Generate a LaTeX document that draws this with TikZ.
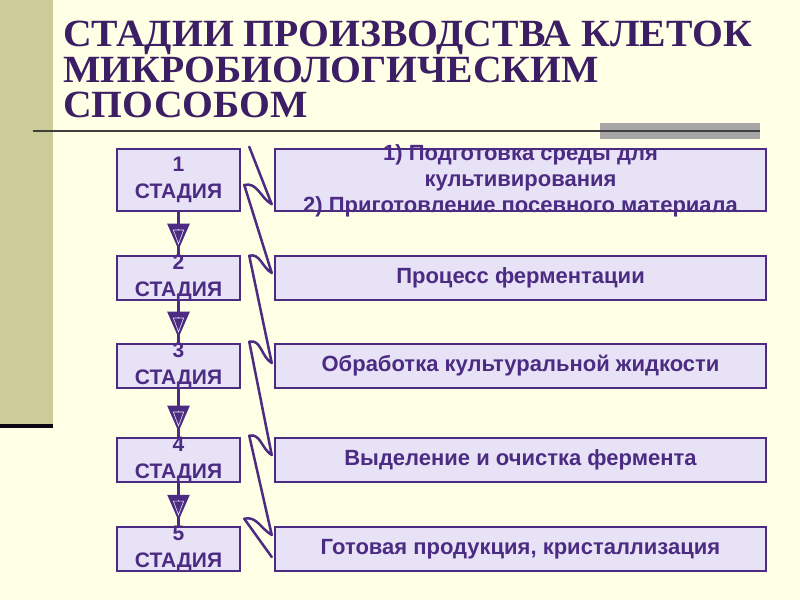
\documentclass[tikz,border=0pt]{standalone}
\usepackage{fontspec}
\setmainfont{Liberation Serif}
\newfontfamily\titlefont{Liberation Serif}[FakeStretch=1.03]
\newfontfamily\boxfont{Liberation Sans}
\usetikzlibrary{calc,arrows.meta}

\definecolor{bgcol}{HTML}{FFFFE6}
\definecolor{barcol}{HTML}{CCCC99}
\definecolor{titlecol}{HTML}{3C1E64}
\definecolor{framecol}{HTML}{4B2C82}
\definecolor{boxfill}{HTML}{E8E2F7}

\tikzset{
  titletext/.style={text=titlecol, font=\titlefont\bfseries\fontsize{38.5}{35}\selectfont, inner sep=0pt, anchor=base west},
  stagebox/.style={draw=framecol, fill=boxfill, line width=2.5pt, inner sep=0pt, minimum width=123pt},
  workbox/.style={stagebox, minimum width=491pt},
  boxtext/.style={text=framecol, font=\boxfont\bfseries\fontsize{21}{27}\selectfont, align=center, inner sep=0pt},
  worktext/.style={boxtext, font=\boxfont\bfseries\fontsize{22}{26}\selectfont},
  stemline/.style={draw=framecol, line width=2.5pt},
  stemtip/.style={stemline, -{Triangle[length=26pt,width=22pt]}, shorten >=5pt},
  innertip/.style={draw=boxfill, line width=0.6pt, -{Triangle[open,length=15pt,width=11pt]}},
  link/.style={draw=framecol, line width=2.5pt, line join=round, line cap=round}
}

\begin{document}
\begin{tikzpicture}[x=1pt, y=1pt]
  \fill[bgcol] (0,0) rectangle (800,600); % 背景
  \useasboundingbox (0,0) rectangle (800,600);
  \fill[barcol] (0,175) rectangle (53,600); % 左の帯
  \draw[line width=3pt, color=black!80!titlecol] (0,174)--(53,174);

  % タイトル
  \node[titletext] (title1) at (63,553) {СТАДИИ ПРОИЗВОДСТВА КЛЕТОК};
  \node[titletext] (title2) at (63,517.5) {МИКРОБИОЛОГИЧЕСКИМ};
  \node[titletext] (title3) at (63,482) {СПОСОБОМ};
  \fill[black!35] (600,461) rectangle (760,477); % 灰色の帯
  \draw[line width=1.5pt, black!75] (33,469)--(760,469); % 区切り線

  % 段階の箱
  \node[stagebox, minimum height=62pt] (s1) at (178.5,420) {};
  \node[stagebox, minimum height=44pt] (s2) at (178.5,322) {};
  \node[stagebox, minimum height=44pt] (s3) at (178.5,234) {};
  \node[stagebox, minimum height=44pt] (s4) at (178.5,140) {};
  \node[stagebox, minimum height=44pt] (s5) at (178.5,51) {};
  \node[boxtext] (t1) at (s1) {1\\СТАДИЯ};
  \node[boxtext] (t2) at (s2) {2\\СТАДИЯ};
  \node[boxtext] (t3) at (s3) {3\\СТАДИЯ};
  \node[boxtext] (t4) at (s4) {4\\СТАДИЯ};
  \node[boxtext] (t5) at (s5) {5\\СТАДИЯ};

  % 内容の箱
  \node[workbox, minimum height=62pt] (r1) at (520.5,420) {};
  \node[workbox, minimum height=44pt] (r2) at (520.5,322) {};
  \node[workbox, minimum height=44pt] (r3) at (520.5,234) {};
  \node[workbox, minimum height=44pt] (r4) at (520.5,140) {};
  \node[workbox, minimum height=44pt] (r5) at (520.5,51) {};
  \node[worktext] (w1) at ($(r1)+(0,-1)$) {1) Подготовка среды для\\культивирования\\2) Приготовление посевного материала};
  \node[worktext] (w2) at (r2) {Процесс ферментации};
  \node[worktext] (w3) at (r3) {Обработка культуральной жидкости};
  \node[worktext] (w4) at (r4) {Выделение и очистка фермента};
  \node[worktext] (w5) at (r5) {Готовая продукция, кристаллизация};

  % 矢印
  \draw[stemline] (s1.south)--(s2.north);
  \draw[stemline] (s2.south)--(s3.north);
  \draw[stemline] (s3.south)--(s4.north);
  \draw[stemline] (s4.south)--(s5.north);
  \draw[stemtip] (s1.south)--(s2.north);
  \draw[stemtip] (s2.south)--(s3.north);
  \draw[stemtip] (s3.south)--(s4.north);
  \draw[stemtip] (s4.south)--(s5.north);
  \draw[innertip] ($(s2.north)+(0,25.5)$)--($(s2.north)+(0,10)$);
  \draw[innertip] ($(s3.north)+(0,25.5)$)--($(s3.north)+(0,10)$);
  \draw[innertip] ($(s4.north)+(0,25.5)$)--($(s4.north)+(0,10)$);
  \draw[innertip] ($(s5.north)+(0,25.5)$)--($(s5.north)+(0,10)$);

  % ジグザグの結び線
  \draw[link] ($(s1.north east)+(8,1)$) -- ($(r1.south west)+(-2,8)$)
    to[out=150,in=15] ($(s1.east)+(3,-5)$) -- ($(r2.west)+(-2,5)$)
    to[out=150,in=15] ($(s2.north east)+(8,-1)$) -- ($(r3.west)+(-2,3)$)
    to[out=150,in=15] ($(s3.north east)+(8,1)$) -- ($(r4.west)+(-2,5)$)
    to[out=150,in=15] ($(s4.north east)+(8,1)$) -- ($(r5.west)+(-2,14)$)
    to[out=150,in=15] ($(s5.north east)+(3,7)$) -- ($(r5.west)+(-2,-8)$);
\end{tikzpicture}
\end{document}
